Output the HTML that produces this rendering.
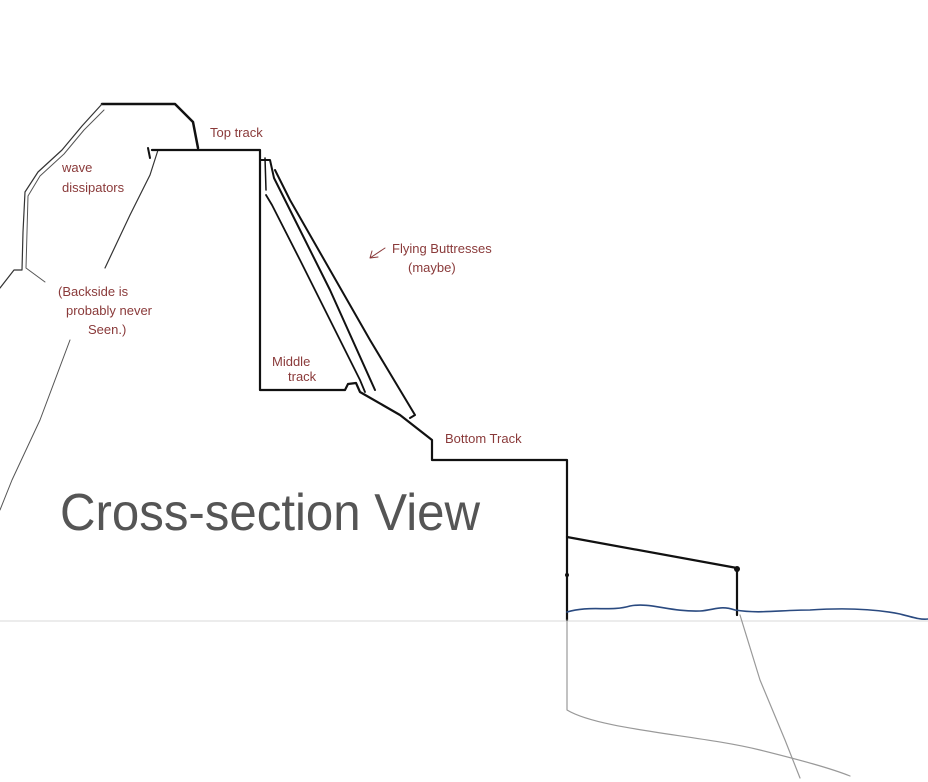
<!DOCTYPE html>
<html><head><meta charset="utf-8"><style>
html,body{margin:0;padding:0;background:#fff;}
svg{display:block}
.r{font-family:"Liberation Sans",sans-serif;fill:#8a3a3a;font-size:13px}
</style></head><body>
<svg width="928" height="782" viewBox="0 0 928 782" xmlns="http://www.w3.org/2000/svg">
<g fill="none" stroke-linecap="round" stroke-linejoin="round">
<line x1="0" y1="621" x2="928" y2="621" stroke="#d8d8d8" stroke-width="1"/>
<path d="M102,104 L175,104 L193,122 L198,148" stroke="#111" stroke-width="2.5"/>
<path d="M102,104 L82,126 L62,150 L38,172 L25,192 L23,232 L22,270 L14,270 L0,288" stroke="#333" stroke-width="1.2"/>
<path d="M104,110 L84,130 L64,154 L40,176 L28,196 L26,268 L45,282" stroke="#555" stroke-width="1"/>
<path d="M158,150 L150,175 L130,215 L105,268" stroke="#333" stroke-width="1.2"/>
<path d="M148,148 L150,158" stroke="#111" stroke-width="2"/>
<path d="M70,340 L40,420 L12,480 L0,510" stroke="#555" stroke-width="1"/>
<path d="M152,150 L260,150 L260,390 L345,390 L348,384 L356,383 L360,392 L400,415 L432,440 L432,460 L567,460 L567,620" stroke="#111" stroke-width="2.2"/>
<path d="M261,160 L270,160 L274,178 L300,230 L330,290 L375,390" stroke="#111" stroke-width="2"/>
<path d="M266,195 L272,205 L300,260 L330,320 L360,380 L365,392" stroke="#111" stroke-width="1.8"/>
<path d="M275,170 L290,200 L330,270 L370,340 L400,390 L415,415 L410,418" stroke="#111" stroke-width="2"/>
<path d="M265,158 L266,190" stroke="#111" stroke-width="1.5"/>
<path d="M567,537 L737,568 L737,615" stroke="#111" stroke-width="2.2"/>
<circle cx="737" cy="569" r="3" fill="#111"/>
<circle cx="567" cy="575" r="2" fill="#111"/>
<path d="M567,612 C590,605 610,612 630,606 C650,602 670,612 700,611 C715,610 720,605 735,610 C760,614 780,610 810,610 C840,608 870,608 900,614 C915,618 922,620 928,619" stroke="#2a4a80" stroke-width="1.6"/>
<path d="M567,620 L567,710 C600,730 700,735 760,750 C800,760 830,768 850,776" stroke="#999" stroke-width="1.2"/>
<path d="M740,615 L760,680 L785,740 L800,778" stroke="#999" stroke-width="1.2"/>
<path d="M370,258 L385,248 M370,258 L378,257 M370,258 L372,251" stroke="#8a3a3a" stroke-width="1"/>
</g>
<text class="r" x="210" y="137">Top track</text>
<text class="r" x="62" y="172" font-size="16">wave</text>
<text class="r" x="62" y="192" font-size="15">dissipators</text>
<text class="r" x="58" y="296" font-size="14">(Backside is</text>
<text class="r" x="66" y="315" font-size="14">probably never</text>
<text class="r" x="88" y="334" font-size="14">Seen.)</text>
<text class="r" x="392" y="253" font-size="14">Flying Buttresses</text>
<text class="r" x="408" y="272" font-size="14">(maybe)</text>
<text class="r" x="272" y="366">Middle</text>
<text class="r" x="288" y="381">track</text>
<text class="r" x="445" y="443">Bottom Track</text>
<text x="60" y="530" font-family="Liberation Sans,sans-serif" font-size="52" fill="#555" textLength="420" lengthAdjust="spacingAndGlyphs">Cross-section View</text>
</svg>
</body></html>
